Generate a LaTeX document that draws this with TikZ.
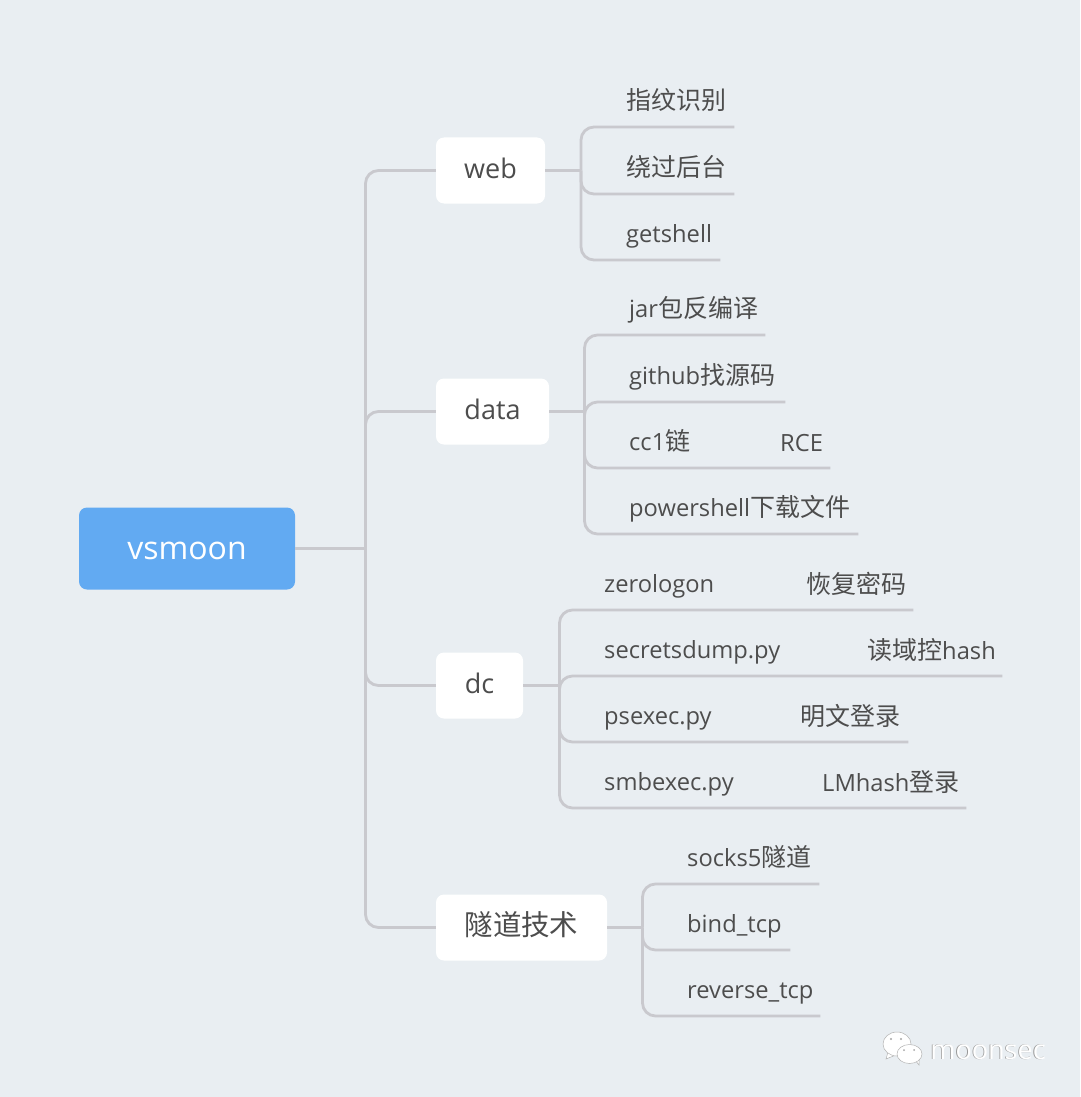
\documentclass[tikz,border=0pt]{standalone}
\usepackage{fontspec}
\setmainfont{Open Sans}
\newfontfamily\cjk[Scale=1.055]{Noto Sans CJK SC}
\usetikzlibrary{positioning, shapes.geometric}
\definecolor{pagebg}{HTML}{E9EEF2}
\definecolor{linegray}{HTML}{C9C9CE}
\definecolor{rootblue}{HTML}{62AAF2}
\definecolor{textgray}{HTML}{4D4D4D}
\tikzstyle{root}     = [rectangle, fill=rootblue, text=white, minimum width=216, minimum height=82,
                         rounded corners=8, text height=21, text depth=0, font=\fontsize{32}{38}\selectfont]
\tikzstyle{topic}    = [rectangle, fill=white, text=textgray, minimum height=66,
                         rounded corners=8, text height=20, text depth=4, font=\fontsize{27}{32}\selectfont]
\tikzstyle{leaf}     = [anchor=south west, inner sep=0, minimum height=46, align=left, text=textgray,
                         text height=18, text depth=6, font=\fontsize{23.7}{29}\selectfont]
\tikzstyle{note}     = [anchor=west, inner sep=0, text=textgray, text height=18, text depth=6,
                         font=\fontsize{23.7}{29}\selectfont]
\tikzstyle{link}     = [draw=linegray, line width=2.8, rounded corners=13]
\tikzstyle{bubble}   = [ellipse, fill=white, draw=gray!60, line width=0.5, inner sep=0]

\begin{document}
\begin{tikzpicture}[x=1pt, y=-1pt]
  \useasboundingbox[fill=pagebg] (0,0) rectangle (1080,1097);

  % Root
  \node[root] (vsmoon) at (187,548.5) {vsmoon};
  \coordinate (rootfork) at (365.5,548.5);

  % Topics
  \node[topic, minimum width=109] (web)  at (490.5,170.5) {web};
  \node[topic, minimum width=113] (data) at (492.5,411.5) {data};
  \node[topic, minimum width=87]  (dc)   at (479.5,685.5) {dc};
  \node[topic, minimum width=171] (tunnel) at (521.5,927.5) {\cjk 隧道技术};

  % Forks
  \coordinate (webfork)    at (581,170.5);
  \coordinate (datafork)   at (584.5,411.5);
  \coordinate (dcfork)     at (559.5,685.5);
  \coordinate (tunnelfork) at (642.5,927.5);

  % web leaves
  \node[leaf, text width=108] (web1) at (626,127) {\cjk 指纹识别};
  \node[leaf, text width=108] (web2) at (626,194) {\cjk 绕过后台};
  \node[leaf, text width=94]  (web3) at (626,260) {getshell};

  % data leaves
  \node[leaf, text width=136] (data1) at (629,335) {jar{\cjk 包反编译}};
  \node[leaf, text width=156] (data2) at (629,402) {github{\cjk 找源码}};
  \node[leaf, text width=201] (data3) at (629,468) {cc1{\cjk 链}};
  \node[leaf, text width=229] (data4) at (629,534) {powershell{\cjk 下载文件}};
  \node[note] (data3b) at (780,445) {RCE};

  % dc leaves
  \node[leaf, text width=309] (dc1) at (604,610) {zerologon};
  \node[leaf, text width=398] (dc2) at (604,676) {secretsdump.py};
  \node[leaf, text width=304] (dc3) at (604,742) {psexec.py};
  \node[leaf, text width=362] (dc4) at (604,808) {smbexec.py};
  \node[note] (dc1b) at (806,587) {\cjk 恢复密码};
  \node[note] (dc2b) at (867,653) {{\cjk 读域控}hash};
  \node[note] (dc3b) at (800,719) {\cjk 明文登录};
  \node[note] (dc4b) at (822,785) {LMhash{\cjk 登录}};

  % tunnel leaves
  \node[leaf, text width=132] (tunnel1) at (687,884) {socks5{\cjk 隧道}};
  \node[leaf, text width=103] (tunnel2) at (687,950) {bind\_tcp};
  \node[leaf, text width=133] (tunnel3) at (687,1016) {reverse\_tcp};

  % Root links
  \draw[link] (vsmoon.east) -- (rootfork);
  \draw[link] (rootfork) |- (web.west);
  \draw[link] (rootfork) |- (data.west);
  \draw[link] (rootfork) |- (dc.west);
  \draw[link] (rootfork) |- (tunnel.west);

  % web links
  \draw[link] (web.east) -- (webfork);
  \draw[link] (webfork) |- (web1.south east);
  \draw[link] (webfork) |- (web2.south east);
  \draw[link] (webfork) |- (web3.south east);

  % data links
  \draw[link] (data.east) -- (datafork);
  \draw[link] (datafork) |- (data1.south east);
  \draw[link] (datafork) |- (data2.south east);
  \draw[link] (datafork) |- (data3.south east);
  \draw[link] (datafork) |- (data4.south east);

  % dc links
  \draw[link] (dc.east) -- (dcfork);
  \draw[link] (dcfork) |- (dc1.south east);
  \draw[link] (dcfork) |- (dc2.south east);
  \draw[link] (dcfork) |- (dc3.south east);
  \draw[link] (dcfork) |- (dc4.south east);

  % tunnel links
  \draw[link] (tunnel.east) -- (tunnelfork);
  \draw[link] (tunnelfork) |- (tunnel1.south east);
  \draw[link] (tunnelfork) |- (tunnel2.south east);
  \draw[link] (tunnelfork) |- (tunnel3.south east);

  % Watermark
  \fill[white, draw=gray!60, line width=0.5] (888,1052) -- (886,1059) -- (896,1055) -- cycle;
  \node[bubble, minimum width=28, minimum height=24] (bigbubble) at (897,1044) {};
  \fill[white, draw=gray!60, line width=0.5] (915,1060) -- (919,1065) -- (919,1058) -- cycle;
  \node[bubble, minimum width=25, minimum height=19] (smallbubble) at (909.5,1054) {};
  \fill[gray!70] (891,1039) circle (1.2) (901,1039) circle (1.2) (904,1050) circle (1) (914,1050) circle (1);
  \node[text=gray!80, font=\fontsize{27}{32}\selectfont] (markshadow) at (987.2,1052.6) {moonsec};
  \node[text=white, font=\fontsize{27}{32}\selectfont] (mark) at (988,1052) {moonsec};
\end{tikzpicture}
\end{document}
